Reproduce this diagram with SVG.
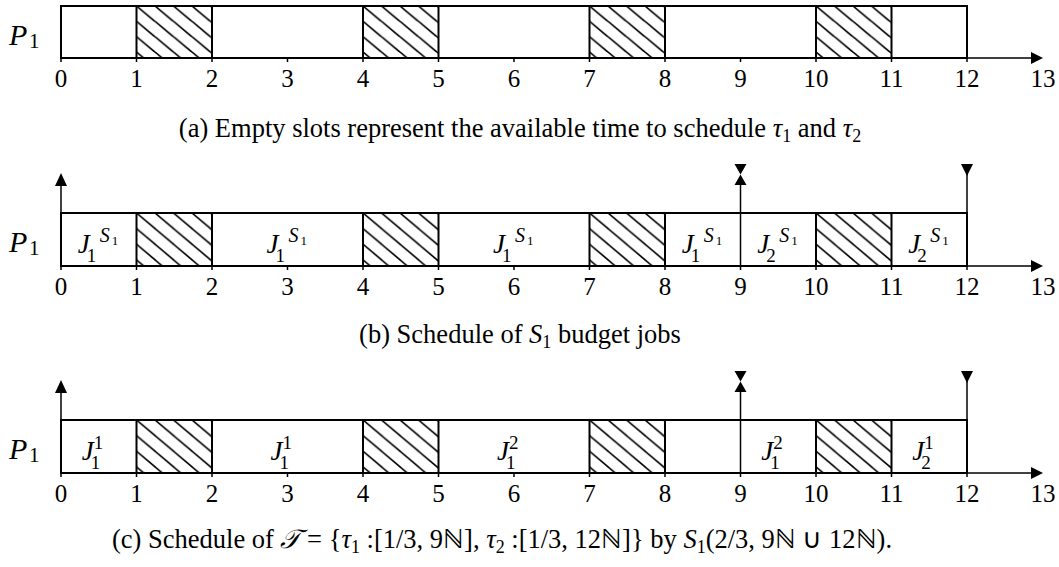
<svg xmlns="http://www.w3.org/2000/svg" width="1059" height="567" viewBox="0 0 1059 567">
<style>
  .bg{fill:#fff}
  .box{fill:none;stroke:#000;stroke-width:2}
  .hatch{fill:url(#hatch);stroke:#000;stroke-width:2}
  .ax{stroke:#000;stroke-width:1.5;fill:none}
  .tick{stroke:#000;stroke-width:1.5}
  .ah{fill:#000;stroke:none}
  text{font-family:"Liberation Serif","Times New Roman",serif;fill:#000}
  .num{font-size:25px;text-anchor:middle}
  .p{font-style:italic;font-size:30px}
  .ps{font-size:21px}
  .j{font-style:italic;font-size:27px}
  .js{font-size:19px;font-style:normal}
  .jsi{font-style:italic;font-size:20px}
  .jss{font-size:13px;font-style:normal}
  .cap{font-size:26.5px;text-anchor:middle}
  .it{font-style:italic}
  .sb{font-size:18px}
</style>
<defs>
  <pattern id="hatch" patternUnits="objectBoundingBox" x="0" y="0" width="0.245" height="0.295" patternContentUnits="userSpaceOnUse">
    <path d="M-2,-1.68 L20.5,17.22 M16.5,-1.68 L39,17.22 M-20.5,-1.68 L2,17.22" stroke="#000" stroke-width="1.6" fill="none"/>
  </pattern>
</defs>
<rect class="bg" x="0" y="0" width="1059" height="567"/>

<!-- Panel A -->
<g id="panel-a">
  <rect class="box" x="61" y="6" width="906" height="52"/>
  <rect class="hatch" x="136.5" y="6" width="75.5" height="52"/>
  <rect class="hatch" x="363" y="6" width="75.5" height="52"/>
  <rect class="hatch" x="589.5" y="6" width="75.5" height="52"/>
  <rect class="hatch" x="816" y="6" width="75.5" height="52"/>
  <text x="9" y="45"><tspan class="p">P</tspan><tspan class="ps" x="29" y="48">1</tspan></text>
</g>
<g id="axis-a">
  <line class="ax" x1="61" y1="58" x2="1032" y2="58"/>
  <polygon class="ah" points="1043,58 1031,52 1031,64"/>
  <g class="tick">
    <line x1="61" y1="58" x2="61" y2="62"/><line x1="136.5" y1="58" x2="136.5" y2="62"/><line x1="212" y1="58" x2="212" y2="62"/><line x1="287.5" y1="58" x2="287.5" y2="62"/><line x1="363" y1="58" x2="363" y2="62"/><line x1="438.5" y1="58" x2="438.5" y2="62"/><line x1="514" y1="58" x2="514" y2="62"/><line x1="589.5" y1="58" x2="589.5" y2="62"/><line x1="665" y1="58" x2="665" y2="62"/><line x1="740.5" y1="58" x2="740.5" y2="62"/><line x1="816" y1="58" x2="816" y2="62"/><line x1="891.5" y1="58" x2="891.5" y2="62"/><line x1="967" y1="58" x2="967" y2="62"/>
  </g>
  <g>
    <text class="num" x="61" y="87">0</text><text class="num" x="136.5" y="87">1</text><text class="num" x="212" y="87">2</text><text class="num" x="287.5" y="87">3</text><text class="num" x="363" y="87">4</text><text class="num" x="438.5" y="87">5</text><text class="num" x="514" y="87">6</text><text class="num" x="589.5" y="87">7</text><text class="num" x="665" y="87">8</text><text class="num" x="740.5" y="87">9</text><text class="num" x="816" y="87">10</text><text class="num" x="891.5" y="87">11</text><text class="num" x="967" y="87">12</text><text class="num" x="1043" y="87">13</text>
  </g>
</g>
<text id="caption-a" class="cap" x="520" y="137">(a) Empty slots represent the available time to schedule <tspan class="it">τ</tspan><tspan class="sb" dy="5">1</tspan><tspan dy="-5"> and </tspan><tspan class="it">τ</tspan><tspan class="sb" dy="5">2</tspan></text>

<!-- Panel B -->
<g id="panel-b">
  <rect class="box" x="61" y="213" width="906" height="53"/>
  <line class="box" x1="665" y1="213" x2="665" y2="266"/>
  <rect class="hatch" x="136.5" y="213" width="75.5" height="53"/>
  <rect class="hatch" x="363" y="213" width="75.5" height="53"/>
  <rect class="hatch" x="589.5" y="213" width="75.5" height="53"/>
  <rect class="hatch" x="816" y="213" width="75.5" height="53"/>
  <text x="9" y="252"><tspan class="p">P</tspan><tspan class="ps" x="29" y="255">1</tspan></text>
  <g id="labels-b">
    <text class="j" x="77.75" y="253">J<tspan class="js" x="86.75" y="262">1</tspan><tspan class="jsi" x="99.75" y="242">S</tspan><tspan class="jss" x="111.75" y="245">1</tspan></text>
    <text class="j" x="266.5" y="253">J<tspan class="js" x="275.5" y="262">1</tspan><tspan class="jsi" x="288.5" y="242">S</tspan><tspan class="jss" x="300.5" y="245">1</tspan></text>
    <text class="j" x="493" y="253">J<tspan class="js" x="502" y="262">1</tspan><tspan class="jsi" x="515" y="242">S</tspan><tspan class="jss" x="527" y="245">1</tspan></text>
    <text class="j" x="681.75" y="253">J<tspan class="js" x="690.75" y="262">1</tspan><tspan class="jsi" x="703.75" y="242">S</tspan><tspan class="jss" x="715.75" y="245">1</tspan></text>
    <text class="j" x="757.25" y="253">J<tspan class="js" x="766.25" y="262">2</tspan><tspan class="jsi" x="779.25" y="242">S</tspan><tspan class="jss" x="791.25" y="245">1</tspan></text>
    <text class="j" x="908.25" y="253">J<tspan class="js" x="917.25" y="262">2</tspan><tspan class="jsi" x="930.25" y="242">S</tspan><tspan class="jss" x="942.25" y="245">1</tspan></text>
  </g>
</g>
<g id="connectors-b">
  <line class="ax" x1="61" y1="184" x2="61" y2="213"/>
  <polygon class="ah" points="61,173 55,186 67,186"/>
  <line class="ax" x1="740.5" y1="183" x2="740.5" y2="266"/>
  <polygon class="ah" points="734.5,164 746.5,164 740.5,174.5 746.5,185 734.5,185 740.5,174.5"/>
  <line class="ax" x1="967" y1="174" x2="967" y2="213"/>
  <polygon class="ah" points="961,164 973,164 967,176"/>
</g>
<g id="axis-b">
  <line class="ax" x1="61" y1="266" x2="1032" y2="266"/>
  <polygon class="ah" points="1043,266 1031,260 1031,272"/>
  <g class="tick">
    <line x1="61" y1="266" x2="61" y2="270"/><line x1="136.5" y1="266" x2="136.5" y2="270"/><line x1="212" y1="266" x2="212" y2="270"/><line x1="287.5" y1="266" x2="287.5" y2="270"/><line x1="363" y1="266" x2="363" y2="270"/><line x1="438.5" y1="266" x2="438.5" y2="270"/><line x1="514" y1="266" x2="514" y2="270"/><line x1="589.5" y1="266" x2="589.5" y2="270"/><line x1="665" y1="266" x2="665" y2="270"/><line x1="740.5" y1="266" x2="740.5" y2="270"/><line x1="816" y1="266" x2="816" y2="270"/><line x1="891.5" y1="266" x2="891.5" y2="270"/><line x1="967" y1="266" x2="967" y2="270"/>
  </g>
  <g>
    <text class="num" x="61" y="295">0</text><text class="num" x="136.5" y="295">1</text><text class="num" x="212" y="295">2</text><text class="num" x="287.5" y="295">3</text><text class="num" x="363" y="295">4</text><text class="num" x="438.5" y="295">5</text><text class="num" x="514" y="295">6</text><text class="num" x="589.5" y="295">7</text><text class="num" x="665" y="295">8</text><text class="num" x="740.5" y="295">9</text><text class="num" x="816" y="295">10</text><text class="num" x="891.5" y="295">11</text><text class="num" x="967" y="295">12</text><text class="num" x="1043" y="295">13</text>
  </g>
</g>
<text id="caption-b" class="cap" x="520" y="343">(b) Schedule of <tspan class="it">S</tspan><tspan class="sb" dy="5">1</tspan><tspan dy="-5"> budget jobs</tspan></text>

<!-- Panel C -->
<g id="panel-c">
  <rect class="box" x="61" y="420" width="906" height="53"/>
  <rect class="hatch" x="136.5" y="420" width="75.5" height="53"/>
  <rect class="hatch" x="363" y="420" width="75.5" height="53"/>
  <rect class="hatch" x="589.5" y="420" width="75.5" height="53"/>
  <rect class="hatch" x="816" y="420" width="75.5" height="53"/>
  <text x="9" y="459"><tspan class="p">P</tspan><tspan class="ps" x="29" y="462">1</tspan></text>
  <g id="labels-c">
    <text class="j" x="81.75" y="460">J<tspan class="js" x="90.75" y="469">1</tspan><tspan class="js" x="93.75" y="449">1</tspan></text>
    <text class="j" x="270.5" y="460">J<tspan class="js" x="279.5" y="469">1</tspan><tspan class="js" x="282.5" y="449">1</tspan></text>
    <text class="j" x="497" y="460">J<tspan class="js" x="506" y="469">1</tspan><tspan class="js" x="509" y="449">2</tspan></text>
    <text class="j" x="761.25" y="460">J<tspan class="js" x="770.25" y="469">1</tspan><tspan class="js" x="773.25" y="449">2</tspan></text>
    <text class="j" x="912.25" y="460">J<tspan class="js" x="921.25" y="469">2</tspan><tspan class="js" x="924.25" y="449">1</tspan></text>
  </g>
</g>
<g id="connectors-c">
  <line class="ax" x1="61" y1="391" x2="61" y2="420"/>
  <polygon class="ah" points="61,380 55,393 67,393"/>
  <line class="ax" x1="740.5" y1="390" x2="740.5" y2="473"/>
  <polygon class="ah" points="734.5,371 746.5,371 740.5,381.5 746.5,392 734.5,392 740.5,381.5"/>
  <line class="ax" x1="967" y1="381" x2="967" y2="420"/>
  <polygon class="ah" points="961,371 973,371 967,383"/>
</g>
<g id="axis-c">
  <line class="ax" x1="61" y1="473" x2="1032" y2="473"/>
  <polygon class="ah" points="1043,473 1031,467 1031,479"/>
  <g class="tick">
    <line x1="61" y1="473" x2="61" y2="477"/><line x1="136.5" y1="473" x2="136.5" y2="477"/><line x1="212" y1="473" x2="212" y2="477"/><line x1="287.5" y1="473" x2="287.5" y2="477"/><line x1="363" y1="473" x2="363" y2="477"/><line x1="438.5" y1="473" x2="438.5" y2="477"/><line x1="514" y1="473" x2="514" y2="477"/><line x1="589.5" y1="473" x2="589.5" y2="477"/><line x1="665" y1="473" x2="665" y2="477"/><line x1="740.5" y1="473" x2="740.5" y2="477"/><line x1="816" y1="473" x2="816" y2="477"/><line x1="891.5" y1="473" x2="891.5" y2="477"/><line x1="967" y1="473" x2="967" y2="477"/>
  </g>
  <g>
    <text class="num" x="61" y="502">0</text><text class="num" x="136.5" y="502">1</text><text class="num" x="212" y="502">2</text><text class="num" x="287.5" y="502">3</text><text class="num" x="363" y="502">4</text><text class="num" x="438.5" y="502">5</text><text class="num" x="514" y="502">6</text><text class="num" x="589.5" y="502">7</text><text class="num" x="665" y="502">8</text><text class="num" x="740.5" y="502">9</text><text class="num" x="816" y="502">10</text><text class="num" x="891.5" y="502">11</text><text class="num" x="967" y="502">12</text><text class="num" x="1043" y="502">13</text>
  </g>
</g>
<text id="caption-c" class="cap" x="502" y="548">(c) Schedule of  <tspan class="it">𝒯</tspan> = {<tspan class="it">τ</tspan><tspan class="sb" dy="5">1</tspan><tspan dy="-5"> :[1/3, 9ℕ], </tspan><tspan class="it">τ</tspan><tspan class="sb" dy="5">2</tspan><tspan dy="-5"> :[1/3, 12ℕ]} by  </tspan><tspan class="it">S</tspan><tspan class="sb" dy="5">1</tspan><tspan dy="-5">(2/3, 9ℕ ∪ 12ℕ).</tspan></text>
</svg>
